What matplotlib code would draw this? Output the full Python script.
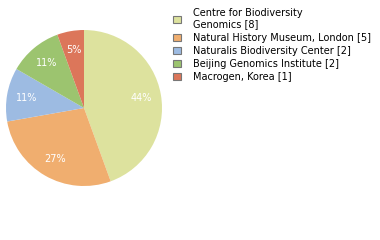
import matplotlib
matplotlib.use('Agg')
import matplotlib.pyplot as plt
from matplotlib.patches import Patch

labels = ['Centre for Biodiversity\nGenomics [8]', 'Natural History Museum, London [5]',
          'Naturalis Biodiversity Center [2]', 'Beijing Genomics Institute [2]',
          'Macrogen, Korea [1]']
counts = [8, 5, 2, 2, 1]
colors = ['#dde29e', '#f0ae6f', '#9dbbe2', '#9cc46f', '#dc765a']

fig = plt.figure(figsize=(3.8, 2.4), dpi=100)
ax = fig.add_axes([6/380, 54/240, 156/380, 156/240])
wedges, texts, autotexts = ax.pie(counts, colors=colors, startangle=90, counterclock=False,
                                  autopct='%d%%', pctdistance=0.75,
                                  wedgeprops=dict(linewidth=0),
                                  textprops=dict(color='white', fontsize=7))
ax.set_xlim(-1, 1)
ax.set_ylim(-1, 1)
ax.set_aspect('equal')

handles = [Patch(facecolor=c, edgecolor='#777777', linewidth=0.8) for c in colors]
fig.legend(handles, labels, loc='upper left', bbox_to_anchor=(170/380, 1 - 5/240),
           frameon=False, fontsize=7, handlelength=0.8, handleheight=0.8,
           handletextpad=1.3, labelspacing=0.32, borderaxespad=0, borderpad=0.3)

fig.savefig('out.png', dpi=100, facecolor='w')
